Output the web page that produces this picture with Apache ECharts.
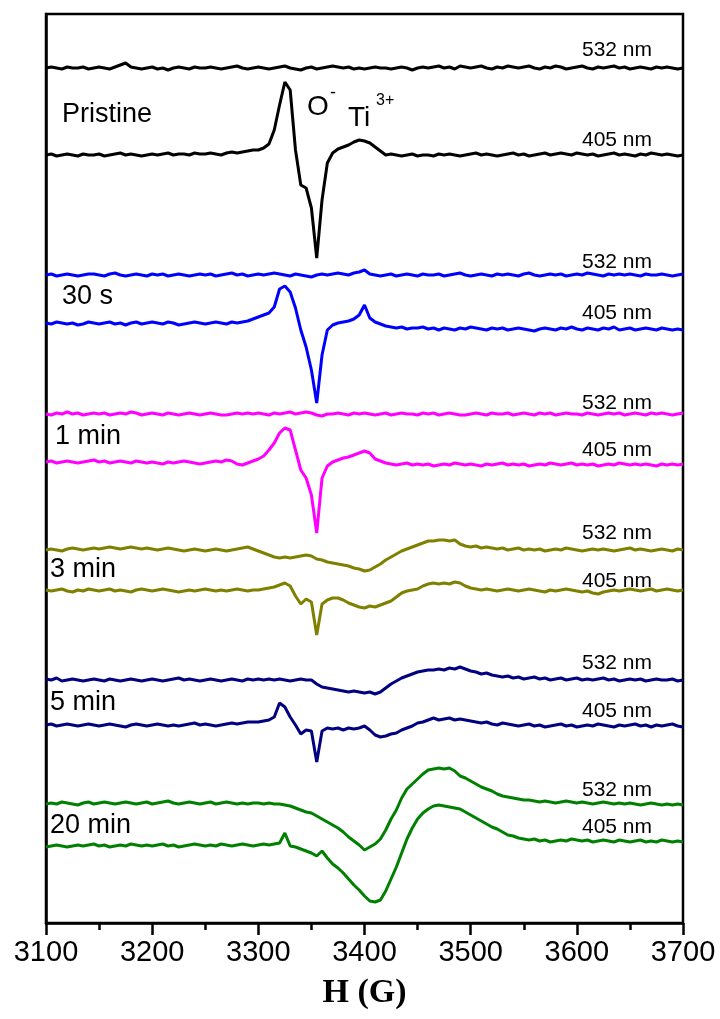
<!DOCTYPE html>
<html><head><meta charset="utf-8">
<script src="https://cdn.jsdelivr.net/npm/echarts@6/dist/echarts.min.js"></script>
<style>html,body{margin:0;padding:0;background:#fff}#c{width:720px;height:1019px}</style>
</head><body><div id="c"></div>
<script>
// Magnetic field sampling (G)
const fieldStart = 3100, fieldStep = 5, fieldCount = 121;
const xTicks = [3100, 3200, 3300, 3400, 3500, 3600, 3700];
const traceNames = ['Pristine 532 nm','Pristine 405 nm','30 s 532 nm','30 s 405 nm','1 min 532 nm','1 min 405 nm','3 min 532 nm','3 min 405 nm','5 min 532 nm','5 min 405 nm','20 min 532 nm','20 min 405 nm'];
const traceColors = ['#000000','#000000','#0000ff','#0000ff','#ff00ff','#ff00ff','#808000','#808000','#000080','#000080','#008000','#008000'];
// vertical offsets of stacked spectra (a.u.)
const offsets = [855, 768, 648, 598, 509, 461, 373, 333, 243, 198, 119, 77];

// EPR signals (a.u.)
const p532 = [0,1,0,-1,1,0,0,1,-1,0, 1,0,-1,1,3,5,1,0,-1,0, 1,-1,0,-2,0,1,0,-1,1,0, 0,1,0,-1,0,1,2,0,-1,0, 1,0,-1,0,1,2,0,-1,-2,0, 1,-1,0,1,2,1,0,1,-1,0, -1,0,1,0,0,-1,0,1,0,-2, 0,1,0,1,2,0,1,-1,2,1, 0,1,2,0,-1,1,0,2,1,0, 1,2,0,-1,1,0,2,1,-1,0, 1,2,0,-1,1,0,1,2,0,1, -1,0,1,0,-1,1,0,1,0,-1, 0];
const p405 = [0,1,-1,0,1,0,-1,1,0,0, 1,-1,0,1,2,0,1,0,-1,0, 1,0,1,2,0,1,1,0,2,1, 1,2,1,0,2,3,2,3,4,5, 5,7,11,25,50,73,65,5,-30,-33, -53,-103,-45,-8,2,6,8,10,13,15, 14,12,8,4,0,1,0,-1,0,1, -1,0,0,-1,1,0,1,0,-1,0, 1,2,0,1,0,-1,0,1,2,0, 1,-1,0,1,2,0,1,2,1,0, 2,1,0,1,-1,0,1,2,0,1, 0,-1,1,0,2,1,0,1,0,-1, 0];
const s30_532 = [0,1,-1,0,1,0,-1,0,1,1, 0,-1,1,2,0,-1,0,1,0,-1, 1,0,1,-1,0,1,0,-1,0,1, 0,1,-1,0,1,2,0,1,-1,0, 1,0,1,2,1,0,-1,1,0,-1, -2,0,1,0,1,2,1,0,2,3, 5,1,0,-1,0,1,-1,0,1,0, -1,1,0,0,1,-1,0,1,2,0, -1,0,1,0,-1,1,0,1,0,-1, 1,2,0,-1,0,1,0,1,-1,0, 1,0,2,1,0,-1,1,0,1,0, 1,0,-1,1,0,0,1,0,-1,0, 1];
const s30_405 = [2,1,3,2,1,2,0,1,3,2, 1,2,3,1,2,0,2,3,1,2, 3,2,1,3,2,0,1,2,3,2, 1,2,3,2,1,3,2,3,4,6, 8,10,12,18,36,39,33,17,-5,-22, -45,-78,-30,-5,0,2,3,4,6,10, 20,7,3,1,-1,-2,-3,-2,-4,-3, -3,-2,-4,-3,-5,-3,-4,-5,-3,-4, -2,-3,-4,-5,-3,-4,-3,-5,-4,-3, -4,-5,-6,-4,-3,-4,-5,-3,-4,-2, -4,-5,-3,-4,-5,-3,-4,-2,-5,-4, -3,-5,-4,-3,-4,-5,-3,-4,-5,-4, -5];
const m1_532 = [0,-1,1,0,2,0,1,-1,0,1, 0,1,-1,0,1,0,2,1,-1,0, 1,0,-1,1,0,-1,0,1,0,-1, 0,1,0,-1,-1,0,1,0,1,0, 1,0,-1,1,0,1,2,0,1,2, 1,-1,-2,0,0,1,0,-1,1,0, 1,0,-1,0,1,-1,0,1,0,0, -1,1,0,1,-1,0,1,0,-1,-1, 0,1,0,-1,1,0,0,1,-1,0, 1,0,-1,1,0,1,-1,0,1,0, 0,-1,1,0,-1,0,1,0,1,-1, 0,1,0,-1,1,0,1,0,-1,0, 1];
const m1_405 = [0,1,-1,0,1,0,-1,0,1,2, 0,1,-1,0,1,0,-1,1,0,-1, 0,-1,-2,0,-1,0,1,0,-1,-2, -1,0,1,0,2,1,-2,-3,-1,1, 3,6,12,19,29,34,32,12,-8,-16, -33,-71,-16,-4,0,2,4,5,7,9, 11,9,3,1,-1,-2,-3,-2,-1,-3, -2,-3,-2,-4,-3,-2,-3,-1,-2,-3, -2,-3,-4,-2,-3,-2,-1,-3,-2,-3, -2,-4,-3,-2,-3,-1,-2,-3,-2,-1, -3,-2,-3,-2,-4,-3,-2,-3,-1,-2, -3,-2,-3,-2,-3,-4,-2,-3,-2,-3, -2];
const m3_532 = [0,1,0,-1,1,2,1,0,1,2, 1,2,3,2,1,2,3,2,1,2, 1,0,1,2,1,0,-1,0,1,0, -1,0,1,0,-1,0,1,2,3,1, -1,-3,-5,-7,-8,-7,-8,-7,-6,-5, -6,-9,-10,-12,-13,-14,-15,-16,-18,-19, -21,-20,-17,-14,-10,-7,-4,-1,1,3, 5,7,9,9,10,10,9,10,6,4, 3,4,2,3,2,1,2,0,1,2, 0,1,0,1,-1,0,1,0,2,1, 0,-1,0,1,0,1,0,-1,0,1, 2,0,1,0,-1,0,1,0,-1,1, 0];
const m3_405 = [0,-1,0,1,-1,-2,0,-1,1,0, -1,0,1,-1,0,-1,-2,0,1,0, -1,0,1,0,-1,-2,-1,0,-1,0, 1,0,-1,0,-1,0,1,0,-1,0, 0,1,2,3,5,7,4,-6,-14,-9, -12,-45,-14,-10,-8,-8,-10,-13,-15,-17, -18,-16,-17,-15,-13,-11,-7,-3,-1,0, 1,4,6,7,6,7,6,8,7,4, 2,1,0,1,0,-1,0,1,0,-1, 0,1,0,-1,-2,0,-1,0,1,0, -1,-2,-1,-3,-4,-2,-1,0,-1,0, 1,0,-1,0,1,-1,0,1,0,-1, 0];
const m5_532 = [1,0,2,-1,0,1,0,-1,0,1, 0,-1,1,0,-1,0,1,0,-1,0, 1,0,-1,0,1,2,0,1,0,-1, 0,1,0,-1,0,1,0,-1,1,0, 1,0,1,0,1,0,-1,0,1,0, 0,-4,-7,-8,-9,-10,-11,-12,-11,-12, -13,-12,-14,-12,-8,-4,-1,2,4,6, 8,9,10,10,11,10,12,11,13,11, 9,8,6,7,5,4,3,4,2,3, 1,2,3,1,2,0,1,2,0,1, 2,0,1,0,1,2,0,1,-1,0, 1,0,1,-1,0,1,0,0,1,-1, 0];
const m5_405 = [0,1,-1,0,1,0,-1,0,1,0, -1,0,1,0,-1,-2,0,1,0,-1, 0,1,0,-1,0,-1,0,1,2,0, 1,0,-1,0,1,2,1,2,3,3, 3,4,5,8,22,18,8,0,-9,-5, -6,-37,-6,-3,-4,-3,-5,-3,-4,-3, -1,-5,-10,-12,-11,-9,-8,-5,-3,-1, 2,3,5,7,5,6,7,5,6,5, 4,3,2,3,1,0,2,1,0,-1, 0,1,-1,0,-2,-1,0,1,-1,0, -2,-1,0,-1,1,0,-1,-2,0,-1, 0,1,-1,0,-2,0,-1,0,1,-1, -2];
const m20_532 = [0,1,0,2,1,0,-1,1,2,0, 1,2,1,0,1,2,1,0,1,2, 0,1,2,3,1,0,1,2,1,0, 1,2,0,1,2,1,0,1,0,1, 1,0,1,0,0,-1,-2,-4,-6,-8, -9,-12,-15,-18,-21,-24,-28,-33,-37,-41, -46,-43,-40,-35,-26,-15,-6,6,15,20, 25,30,34,35,36,35,36,33,28,26, 23,20,17,15,13,10,8,7,6,5, 4,4,3,2,3,2,1,2,3,2, 1,2,1,0,1,2,1,0,1,0, 1,0,-1,0,1,0,-1,0,-1,0, -1];
const m20_405 = [-1,0,1,0,-1,0,1,0,1,2, 0,1,-1,0,1,0,2,1,0,1, 0,1,2,0,1,-1,0,1,2,1, 0,1,0,2,1,0,1,2,1,0, 1,2,1,2,3,13,0,-1,-3,-5, -7,-10,-5,-12,-18,-22,-27,-33,-39,-44, -50,-55,-56,-54,-45,-33,-21,-7,7,18, 27,33,37,40,41,40,39,38,37,34, 31,28,25,22,19,17,14,11,10,8, 7,6,7,5,6,4,5,6,5,7, 6,5,6,4,5,6,5,4,6,5, 4,5,6,4,5,4,6,5,4,5, 4];
const signals = [p532, p405, s30_532, s30_405, m1_532, m1_405, m3_532, m3_405, m5_532, m5_405, m20_532, m20_405];

// annotation texts
const sampleLabels = ['Pristine', '30 s', '1 min', '3 min', '5 min', '20 min'];
const laserLabels = ['532 nm', '405 nm'];

const field = [];
for (let i = 0; i < fieldCount; i++) field.push(fieldStart + i * fieldStep);

const series = signals.map((sig, k) => ({
  name: traceNames[k], type: 'line', showSymbol: false, symbol: 'none',
  lineStyle: { color: traceColors[k], width: 3 }, itemStyle: { color: traceColors[k] },
  data: sig.map((v, i) => [field[i], offsets[k] + v]), animation: false, z: 3
}));

const FONT = '"Liberation Sans", Arial, sans-serif';
const sampleY = [115, 297, 437, 570, 703, 826];
const sampleX = [62, 62, 55, 50, 50, 50];
const nmY = [50, 140, 262, 313, 403, 450, 533, 581, 663, 711, 790, 827];
const graphic = [];
sampleLabels.forEach((t, i) => graphic.push({ type: 'text', x: sampleX[i], y: sampleY[i], z: 10,
  style: { text: t, fill: '#000', font: '27px ' + FONT, verticalAlign: 'middle', align: 'left' } }));
nmY.forEach((y, i) => graphic.push({ type: 'text', x: 617, y: y, z: 10,
  style: { text: laserLabels[i % 2], fill: '#000', font: '21px ' + FONT, verticalAlign: 'middle', align: 'center' } }));
graphic.push({ type: 'text', x: 307, y: 107, z: 10, style: { text: 'O', fill: '#000', font: '28px ' + FONT, verticalAlign: 'middle', align: 'left' } });
graphic.push({ type: 'text', x: 330, y: 93, z: 10, style: { text: '-', fill: '#000', font: '18px ' + FONT, verticalAlign: 'middle', align: 'left' } });
graphic.push({ type: 'text', x: 348, y: 118, z: 10, style: { text: 'Ti', fill: '#000', font: '28px ' + FONT, verticalAlign: 'middle', align: 'left' } });
graphic.push({ type: 'text', x: 376, y: 101, z: 10, style: { text: '3+', fill: '#000', font: '16px ' + FONT, verticalAlign: 'middle', align: 'left' } });

const chart = echarts.init(document.getElementById('c'), null, { renderer: 'canvas' });
chart.setOption({
  animation: false,
  backgroundColor: '#fff',
  grid: { left: 46, right: 37, top: 14, bottom: 96, show: true, borderColor: '#000', borderWidth: 2.5, backgroundColor: 'transparent' },
  xAxis: {
    type: 'value', min: xTicks[0], max: xTicks[xTicks.length - 1], interval: 100,
    axisLine: { show: true, lineStyle: { color: '#000', width: 2.5 } },
    axisTick: { show: true, inside: false, length: 12, lineStyle: { color: '#000', width: 2.5 } },
    minorTick: { show: true, splitNumber: 2, length: 7, lineStyle: { color: '#000', width: 2.5 } },
    splitLine: { show: false }, minorSplitLine: { show: false },
    axisLabel: { color: '#000', fontSize: 29, fontFamily: FONT, margin: 15, formatter: v => String(v) },
    name: 'H (G)', nameLocation: 'middle', nameGap: 53,
    nameTextStyle: { color: '#000', fontSize: 34, fontWeight: 'bold', fontFamily: '"Liberation Serif", "Times New Roman", serif' }
  },
  yAxis: {
    type: 'value', min: 0, max: 909,
    axisLine: { show: true, lineStyle: { color: '#000', width: 2.5 } },
    axisTick: { show: false }, axisLabel: { show: false }, splitLine: { show: false }
  },
  series: series,
  graphic: graphic
});
</script></body></html>
